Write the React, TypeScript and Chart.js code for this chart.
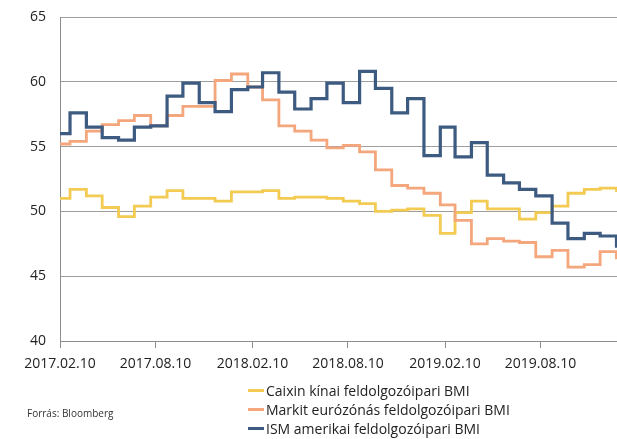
import React, { useEffect, useRef } from 'react';
import { Chart, registerables } from 'chart.js';

Chart.register(...registerables);

// Monthly release months (value holds from the start of the month)
const months = [
  '2017-02', '2017-03', '2017-04', '2017-05', '2017-06', '2017-07', '2017-08', '2017-09', '2017-10', '2017-11', '2017-12',
  '2018-01', '2018-02', '2018-03', '2018-04', '2018-05', '2018-06', '2018-07', '2018-08', '2018-09', '2018-10', '2018-11', '2018-12',
  '2019-01', '2019-02', '2019-03', '2019-04', '2019-05', '2019-06', '2019-07', '2019-08', '2019-09', '2019-10', '2019-11', '2019-12',
  '2020-01',
];

const caixin = [
  51.0, 51.7, 51.2, 50.3, 49.6, 50.4, 51.1, 51.6, 51.0, 51.0, 50.8,
  51.5, 51.5, 51.6, 51.0, 51.1, 51.1, 51.0, 50.8, 50.6, 50.0, 50.1, 50.2,
  49.7, 48.3, 49.9, 50.8, 50.2, 50.2, 49.4, 49.9, 50.4, 51.4, 51.7, 51.8,
  51.5,
];

const markit = [
  55.2, 55.4, 56.2, 56.7, 57.0, 57.4, 56.6, 57.4, 58.1, 58.1, 60.1,
  60.6, 59.6, 58.6, 56.6, 56.2, 55.5, 54.9, 55.1, 54.6, 53.2, 52.0, 51.8,
  51.4, 50.5, 49.3, 47.5, 47.9, 47.7, 47.6, 46.5, 47.0, 45.7, 45.9, 46.9,
  46.3,
];

const ism = [
  56.0, 57.6, 56.5, 55.7, 55.5, 56.5, 56.6, 58.9, 59.9, 58.4, 57.7,
  59.4, 59.6, 60.7, 59.2, 57.9, 58.7, 59.9, 58.4, 60.8, 59.5, 57.6, 58.7,
  54.3, 56.5, 54.2, 55.3, 52.8, 52.2, 51.7, 51.2, 49.1, 47.9, 48.3, 48.1,
  47.2,
];

const tickDates = ['2017-02-10', '2017-08-10', '2018-02-10', '2018-08-10', '2019-02-10', '2019-08-10'];
const tickLabels = ['2017.02.10', '2017.08.10', '2018.02.10', '2018.08.10', '2019.02.10', '2019.08.10'];
const startDate = '2017-02-10';
const endDate = '2020-01-02';

const seriesNames = [
  'Caixin kínai feldolgozóipari BMI',
  'Markit eurózónás feldolgozóipari BMI',
  'ISM amerikai feldolgozóipari BMI',
];
const seriesColors = ['#f3cb52', '#f4a67c', '#3d5a80'];
const sourceText = 'Forrás: Bloomberg';

const FONT = "'Open Sans', 'DejaVu Sans', sans-serif";

const dayOffset = (s: string) => (Date.parse(s) - Date.parse(startDate)) / 86400000;
const toPoints = (vals: number[]) => vals.map((v, i) => ({ x: dayOffset(months[i] + '-01'), y: v }));

export default function App() {
  const canvasRef = useRef<HTMLCanvasElement | null>(null);

  useEffect(() => {
    const canvas = canvasRef.current;
    if (!canvas) return;
    const tickValues = tickDates.map(dayOffset);
    const series = [caixin, markit, ism];
    const chart = new Chart(canvas, {
      type: 'line',
      data: {
        datasets: series.map((vals, i) => ({
          label: seriesNames[i],
          data: toPoints(vals),
          borderColor: seriesColors[i],
          backgroundColor: seriesColors[i],
          borderWidth: i === 2 ? 3.2 : 2.8,
          stepped: true,
          pointRadius: 0,
          fill: false,
          order: 2 - i,
          clip: { left: 0, right: 0, top: 6, bottom: 6 },
        })),
      },
      options: {
        animation: false,
        responsive: false,
        devicePixelRatio: 1,
        layout: { padding: { top: 17, right: 0, left: 0, bottom: 0 } },
        plugins: {
          legend: { display: false },
          tooltip: { enabled: false },
        },
        scales: {
          x: {
            type: 'linear',
            min: 0,
            max: dayOffset(endDate),
            afterBuildTicks: (scale: any) => {
              scale.ticks = tickValues.map((v) => ({ value: v }));
            },
            afterFit: (scale: any) => {
              scale.height = 98;
            },
            border: { display: true, color: '#8c8c8c', width: 1 },
            grid: {
              drawOnChartArea: false,
              drawTicks: true,
              tickLength: 7,
              color: '#8c8c8c',
            },
            ticks: {
              autoSkip: false,
              maxRotation: 0,
              padding: 8,
              color: '#222',
              font: { family: FONT, size: 14 },
              callback: (value: any) => {
                const idx = tickValues.indexOf(Number(value));
                return idx >= 0 ? tickLabels[idx] : '';
              },
            },
          },
          y: {
            min: 40,
            max: 65,
            afterFit: (scale: any) => {
              scale.width = 60;
            },
            border: { display: true, color: '#8c8c8c', width: 1 },
            grid: {
              drawTicks: true,
              tickLength: 12,
              tickColor: 'rgba(0,0,0,0)',
              color: '#9e9e9e',
              lineWidth: 1,
            },
            ticks: {
              stepSize: 5,
              padding: 2,
              color: '#222',
              font: { family: FONT, size: 14 },
            },
          },
        },
      },
    } as any);
    return () => chart.destroy();
  }, []);

  return (
    <div style={{ position: 'absolute', left: 0, top: 0, width: 617, height: 439, background: '#fff', overflow: 'hidden' }}>
      <canvas ref={canvasRef} width={617} height={439} style={{ display: 'block', width: 617, height: 439 }} />
      <div style={{ position: 'absolute', left: 27, top: 406, fontFamily: FONT, fontSize: 10, color: '#333', whiteSpace: 'nowrap' }}>
        {sourceText}
      </div>
      <div style={{ position: 'absolute', left: 248, top: 381, fontFamily: FONT, fontSize: 14, color: '#222' }}>
        {seriesNames.map((name, i) => (
          <div key={name} style={{ display: 'flex', alignItems: 'center', height: 19, whiteSpace: 'nowrap' }}>
            <span style={{ display: 'inline-block', width: 16, height: 3, background: seriesColors[i], marginRight: 2 }} />
            <span>{name}</span>
          </div>
        ))}
      </div>
    </div>
  );
}
